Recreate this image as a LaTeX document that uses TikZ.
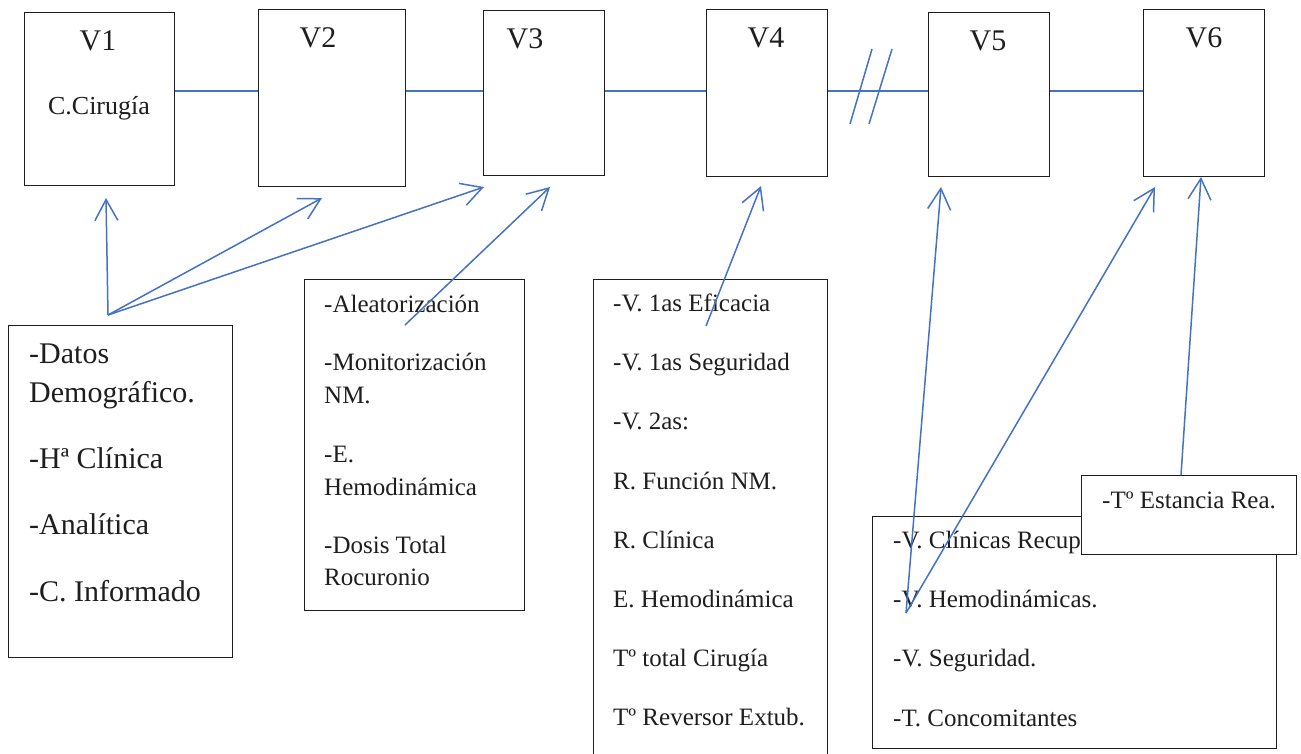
\documentclass[tikz,border=0pt]{standalone}
\usepackage{fontspec}
\setmainfont{Liberation Serif}
\usetikzlibrary{arrows.meta}
\definecolor{linkblue}{RGB}{68,114,196}
\definecolor{ink}{RGB}{30,30,30}
\begin{document}
\begin{tikzpicture}[x=1pt,y=-1pt,
 box/.style={draw=ink, line width=1.2pt, fill=white, inner sep=0pt, anchor=north west},
 conn/.style={draw=linkblue, line width=1.5pt},
 arr/.style={conn, -{Straight Barb[length=21pt,width=23pt,line width=1.5pt]}},
 vlab/.style={anchor=base, font=\fontsize{30}{36}\selectfont, text=ink, inner sep=0pt},
 big/.style={anchor=base west, font=\fontsize{30}{36}\selectfont, text=ink, inner sep=0pt},
 txt/.style={anchor=base west, font=\fontsize{25}{30}\selectfont, text=ink, inner sep=0pt},
]
\useasboundingbox[fill=white] (0,0) rectangle (1301,753);

% top boxes
\node[box, minimum width=150pt, minimum height=173pt] (v1) at (24,12) {};
\node[box, minimum width=147pt, minimum height=177pt] (v2) at (258,9) {};
\node[box, minimum width=121pt, minimum height=165pt] (v3) at (483,10) {};
\node[box, minimum width=121pt, minimum height=167pt] (v4) at (706,9) {};
\node[box, minimum width=121pt, minimum height=164pt] (v5) at (928,12) {};
\node[box, minimum width=121pt, minimum height=167pt] (v6) at (1143,9) {};

\node[vlab] (l1) at (98,50) {V1};
\node[vlab] (l2) at (318,47) {V2};
\node[vlab] (l3) at (525,48) {V3};
\node[vlab] (l4) at (766,47) {V4};
\node[vlab] (l5) at (988,50) {V5};
\node[vlab] (l6) at (1204,47) {V6};
\node[anchor=base, font=\fontsize{26}{31}\selectfont, text=ink, inner sep=0pt] (cir) at (99,114) {C.Cirugía};

% timeline
\coordinate (hl) at (0,91);
\draw[conn] (v1.east |- hl) -- (v2.west |- hl);
\draw[conn] (v2.east |- hl) -- (v3.west |- hl);
\draw[conn] (v3.east |- hl) -- (v4.west |- hl);
\draw[conn] (v4.east |- hl) -- (v5.west |- hl);
\draw[conn] (v5.east |- hl) -- (v6.west |- hl);
\draw[conn] (872,49) -- (850,124);
\draw[conn] (892,49) -- (869,124);

% lower boxes
\node[box, minimum width=224pt, minimum height=332pt] (demo) at (8,325) {};
\node[big] (d1) at (29,363) {-Datos};
\node[big] (d2) at (29,402) {Demográfico.};
\node[big] (d3) at (29,468) {-Hª Clínica};
\node[big] (d4) at (29,534) {-Analítica};
\node[big] (d5) at (29,601) {-C. Informado};

\node[box, minimum width=220pt, minimum height=331pt] (alea) at (304,279) {};
\node[txt] (a1) at (324,312) {-Aleatorización};
\node[txt] (a2) at (324,370) {-Monitorización};
\node[txt] (a3) at (324,403) {NM.};
\node[txt] (a4) at (324,462) {-E.};
\node[txt] (a5) at (324,495) {Hemodinámica};
\node[txt] (a6) at (324,553) {-Dosis Total};
\node[txt] (a7) at (324,585) {Rocuronio};

\node[box, minimum width=234pt, minimum height=490pt] (efic) at (593,279) {};
\node[txt] (e1) at (613,311) {-V. 1as Eficacia};
\node[txt] (e2) at (613,370) {-V. 1as Seguridad};
\node[txt] (e3) at (613,429) {-V. 2as:};
\node[txt] (e4) at (613,489) {R. Función NM.};
\node[txt] (e5) at (613,548) {R. Clínica};
\node[txt] (e6) at (613,607) {E. Hemodinámica};
\node[txt] (e7) at (613,666) {Tº total Cirugía};
\node[txt] (e8) at (613,725) {Tº Reversor Extub.};

\node[box, minimum width=404pt, minimum height=232pt] (recu) at (872,516) {};
\node[txt] (r1) at (893,548) {-V. Clínicas Recupe};
\node[txt] (r2) at (893,607) {-V. Hemodinámicas.};
\node[txt] (r3) at (893,666) {-V. Seguridad.};
\node[txt] (r4) at (893,726) {-T. Concomitantes};

\node[box, minimum width=215pt, minimum height=79pt] (esta) at (1081,475) {};
\node[txt] (s1) at (1102,508) {-Tº Estancia Rea.};

% arrows
\coordinate (dsrc) at (108,315);
\coordinate (t1) at (106,198);
\coordinate (t2) at (322,198);
\coordinate (t3) at (484,187);
\draw[arr] (dsrc) -- (t1);
\draw[arr] (dsrc) -- (t2);
\draw[arr] (dsrc) -- (t3);

\coordinate (asrc) at (405,325);
\coordinate (t4) at (550,187);
\draw[arr] (asrc) -- (t4);

\coordinate (esrc) at (706,326);
\coordinate (t5) at (761,186);
\draw[arr] (esrc) -- (t5);

\coordinate (rsrc) at (906,613);
\coordinate (t6) at (941,187);
\coordinate (t7) at (1155,187);
\draw[arr] (rsrc) -- (t6);
\draw[arr] (rsrc) -- (t7);

\coordinate (t8) at (1201,177);
\draw[arr] (esta.north -| 1181,0) -- (t8);
\end{tikzpicture}
\end{document}
